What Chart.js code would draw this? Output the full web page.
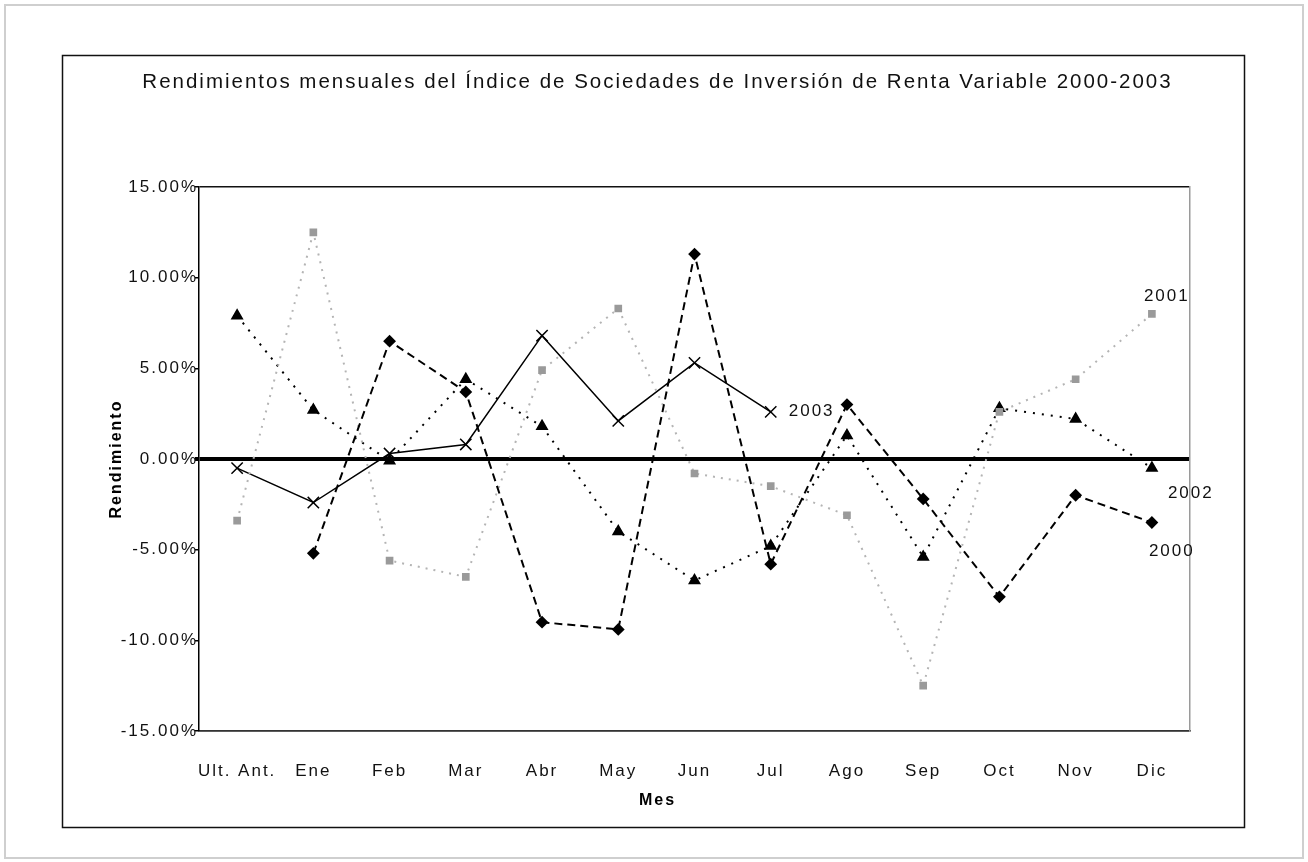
<!DOCTYPE html>
<html>
<head>
<meta charset="utf-8">
<title>Rendimientos mensuales</title>
<script src="https://cdn.jsdelivr.net/npm/chart.js@4.4.1/dist/chart.umd.min.js"></script>
<style>
    html, body { margin: 0; padding: 0; background: #fff; }
    canvas { display: block; }
</style>
</head>
<body>
<canvas id="rendChart" width="1308" height="862"></canvas>
<script>
// Categorias (meses) y rendimientos mensuales en %
const months = ['Ult. Ant.', 'Ene', 'Feb', 'Mar', 'Abr', 'May', 'Jun', 'Jul', 'Ago', 'Sep', 'Oct', 'Nov', 'Dic'];
const rend2000 = [null, -5.2, 6.5, 3.7, -9.0, -9.4, 11.3, -5.8, 3.0, -2.2, -7.6, -2.0, -3.5];
const rend2001 = [-3.4, 12.5, -5.6, -6.5, 4.9, 8.3, -0.8, -1.5, -3.1, -12.5, 2.6, 4.4, 8.0];
const rend2002 = [7.9, 2.7, -0.1, 4.4, 1.8, -4.0, -6.7, -4.8, 1.3, -5.4, 2.8, 2.2, -0.5];
const rend2003 = [-0.5, -2.4, 0.3, 0.8, 6.8, 2.1, 5.3, 2.6, null, null, null, null, null];
const seriesNames = ['2000', '2001', '2002', '2003'];
const yMin = -15, yMax = 15, yStep = 5;

const FONT = '"Liberation Sans", Arial, sans-serif';
Chart.defaults.font.family = FONT;
Chart.defaults.color = '#111';

// offsets of the end-of-line labels (px from the last point)
const endLabelOffsets = [[-3, 29], [-8, -18], [16, 25], [18, -1]];

function setSpacing(ctx) {
    if ('letterSpacing' in ctx) ctx.letterSpacing = '2px';
}

const excelFrame = {
    id: 'excelFrame',
    beforeLayout(chart) {
        setSpacing(chart.ctx);
    },
    beforeDraw(chart) {
        const ctx = chart.ctx;
        setSpacing(ctx);
        ctx.save();
        ctx.fillStyle = '#fff';
        ctx.fillRect(0, 0, chart.width, chart.height);
        // outer sheet frame
        ctx.strokeStyle = '#cfcfcf';
        ctx.lineWidth = 2;
        ctx.strokeRect(5, 5, chart.width - 10, chart.height - 9);
        // chart box
        ctx.strokeStyle = '#111';
        ctx.lineWidth = 1.5;
        ctx.strokeRect(62.5, 55.5, 1182, 772);
        ctx.restore();
    },
    afterDatasetsDraw(chart) {
        const ctx = chart.ctx;
        ctx.save();
        ctx.font = '17px ' + FONT;
        ctx.fillStyle = '#111';
        ctx.textAlign = 'left';
        ctx.textBaseline = 'middle';
        chart.data.datasets.forEach((ds, i) => {
            const meta = chart.getDatasetMeta(i);
            let last = -1;
            ds.data.forEach((v, j) => { if (v !== null) last = j; });
            if (last < 0) return;
            const pt = meta.data[last];
            const off = endLabelOffsets[i];
            ctx.fillText(ds.label, pt.x + off[0], pt.y + off[1]);
        });
        ctx.restore();
    }
};

const ctx = document.getElementById('rendChart');
const rendChart = new Chart(ctx, {
    type: 'line',
    data: {
        labels: months,
        datasets: [
            {
                label: seriesNames[0], data: rend2000,
                borderColor: '#000', borderWidth: 2, borderDash: [8, 5],
                pointStyle: 'rectRot', pointRadius: 5,
                pointBackgroundColor: '#000', pointBorderColor: '#000'
            },
            {
                label: seriesNames[1], data: rend2001,
                borderColor: '#b4b4b4', borderWidth: 2, borderDash: [2, 6],
                pointStyle: 'rect', pointRadius: 4,
                pointBackgroundColor: '#9a9a9a', pointBorderColor: '#9a9a9a'
            },
            {
                label: seriesNames[2], data: rend2002,
                borderColor: '#000', borderWidth: 2, borderDash: [2, 7],
                pointStyle: 'triangle', pointRadius: 5.5,
                pointBackgroundColor: '#000', pointBorderColor: '#000'
            },
            {
                label: seriesNames[3], data: rend2003,
                borderColor: '#000', borderWidth: 1.5,
                pointStyle: 'crossRot', pointRadius: 8, pointBorderWidth: 1.5,
                pointBackgroundColor: '#000', pointBorderColor: '#000'
            }
        ]
    },
    options: {
        responsive: false,
        animation: false,
        devicePixelRatio: 1,
        layout: { padding: { left: 70, right: 63, top: 55, bottom: 30 } },
        elements: { line: { tension: 0, fill: false } },
        plugins: {
            legend: { display: false },
            tooltip: { enabled: false },
            title: {
                display: true,
                text: 'Rendimientos mensuales del Índice de Sociedades de Inversión de Renta Variable 2000-2003',
                font: { size: 20.5, weight: 'normal' },
                color: '#111',
                padding: { top: 15, bottom: 92.4 }
            },
            subtitle: {
                display: true,
                position: 'bottom',
                text: 'Mes',
                font: { size: 16, weight: 'bold' },
                color: '#000',
                padding: { top: 4, bottom: 22 }
            }
        },
        scales: {
            x: {
                offset: true,
                grid: { display: false },
                border: { display: true, color: '#333', width: 1.5 },
                ticks: { padding: 22, font: { size: 17 }, color: '#111', maxRotation: 0, autoSkip: false },
                afterFit(scale) { scale.height = 55.8; }
            },
            y: {
                position: 'left',
                min: yMin,
                max: yMax,
                ticks: {
                    stepSize: yStep,
                    padding: -3,
                    font: { size: 17 },
                    color: '#111',
                    callback: v => v.toFixed(2) + '%'
                },
                grid: {
                    drawTicks: true,
                    tickLength: 4,
                    tickColor: '#000',
                    color: c => (c.tick.value === 0 ? '#000' : (Math.abs(c.tick.value) === yMax ? '#111' : 'rgba(0,0,0,0)')),
                    lineWidth: c => (c.tick.value === 0 ? 4 : 1.5)
                },
                border: { display: true, color: '#000', width: 1.5 },
                title: {
                    display: true,
                    text: 'Rendimiento',
                    font: { size: 16, weight: 'bold' },
                    color: '#000',
                    padding: { top: 37, bottom: 0 }
                },
                afterFit(scale) { scale.width = 129; }
            },
            yRight: {
                type: 'linear',
                position: 'right',
                display: true,
                grid: { display: false },
                ticks: { display: false },
                border: { display: true, color: '#9a9a9a', width: 1.5 },
                afterFit(scale) { scale.width = 55; }
            }
        }
    },
    plugins: [excelFrame]
});
</script>
</body>
</html>
